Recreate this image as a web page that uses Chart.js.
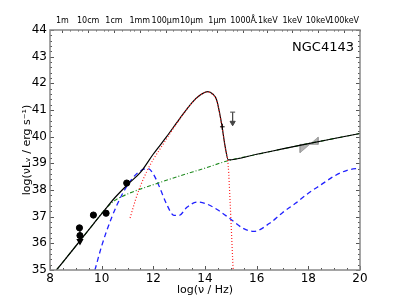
<!DOCTYPE html>
<html>
<head>
<meta charset="utf-8">
<script src="https://cdn.jsdelivr.net/npm/chart.js@4"></script>
<style>
  html, body { margin: 0; padding: 0; background: #fff; }
  #wrap { width: 400px; height: 300px; }
</style>
</head>
<body>
<div id="wrap"><canvas id="sed"></canvas></div>
<script>
// --- Data (log nu, log nuL_nu) ---
const totalX = [8.25, 9.0, 9.7, 10.2, 10.5, 11.0, 11.5, 12.0, 12.5, 13.0, 13.5, 13.8, 14.1, 14.3, 14.45, 14.64, 14.78, 14.9, 16, 17, 18, 19, 20];
const totalY = [35.0, 35.9, 36.75, 37.35, 37.7, 38.2, 38.66, 39.35, 39.98, 40.65, 41.28, 41.55, 41.69, 41.6, 41.38, 40.5, 39.63, 39.13, 39.34, 39.54, 39.74, 39.93, 40.12];

const diskX = [11.1, 11.3, 11.5, 11.75, 12.0, 12.3, 12.6, 13.0, 13.5, 13.8, 14.1, 14.3, 14.45, 14.64, 14.78, 14.9, 14.97, 15.03, 15.09];
const diskY = [36.95, 37.6, 38.15, 38.7, 39.15, 39.6, 40.05, 40.63, 41.27, 41.55, 41.68, 41.58, 41.36, 40.48, 39.6, 38.9, 37.6, 36.3, 35.0];

const jetX = [8.25, 9.0, 9.7, 10.2, 10.5, 11.0, 12.0, 13.0, 14.0, 14.9, 16, 17, 18, 19, 20];
const jetY = [35.0, 35.9, 36.75, 37.35, 37.6, 37.85, 38.2, 38.52, 38.82, 39.1, 39.33, 39.54, 39.74, 39.93, 40.12];

const templateX = [9.74, 10.0, 10.4, 10.8, 11.2, 11.55, 11.8, 12.0, 12.2, 12.5, 12.8, 13.0, 13.3, 13.7, 14.0, 14.5, 15.0, 15.5, 15.9, 16.5, 17.0, 17.5, 18.0, 18.5, 19.0, 19.5, 20.0];
const templateY = [35.0, 35.9, 37.0, 37.85, 38.45, 38.75, 38.8, 38.6, 38.2, 37.5, 37.05, 37.05, 37.35, 37.55, 37.5, 37.25, 36.9, 36.55, 36.45, 36.75, 37.15, 37.5, 37.88, 38.2, 38.52, 38.74, 38.82];

const obsX = [9.14, 9.16, 9.68, 10.17, 10.97];
const obsY = [36.58, 36.29, 37.06, 37.13, 38.26];

// radio upper limit (line + arrow)
const radioLimX = [9.16, 9.16];
const radioLimY = [36.58, 36.08];

// optical point with horizontal error bar
const optX = [14.58, 14.67, 14.76];
const optY = [40.37, 40.37, 40.37];

// UV upper limit
const uvLimX = [15.07, 15.07];
const uvLimY = [40.92, 40.52];

// X-ray bowtie corners
const bowX = [17.68, 17.68, 18.38, 18.38, 17.68];
const bowY = [39.71, 39.40, 39.98, 39.71, 39.71];

// axis ticks
const xTicks = [8, 10, 12, 14, 16, 18, 20];
const yTicks = [35, 36, 37, 38, 39, 40, 41, 42, 43, 44];
const topTickValues = [8.477, 9.477, 10.477, 11.477, 12.477, 13.477, 14.477, 15.477, 16.383, 17.383, 18.383, 19.383];
const topTickLabels = ['1m', '10cm', '1cm', '1mm', '100\u03bcm', '10\u03bcm', '1\u03bcm', '1000\u00c5', '.1keV', '1keV', '10keV', '100keV'];

const FONT = "'DejaVu Sans', sans-serif";
const pts = (xs, ys) => xs.map((x, i) => ({ x: x, y: ys[i] }));

// inward ticks + frame + object name, like the matplotlib original
const framePlugin = {
    id: 'frame',
    afterDraw(chart) {
        const { ctx, chartArea: a, scales } = chart;
        const sx = scales.x, sy = scales.y;
        ctx.save();
        ctx.strokeStyle = '#555';
        ctx.lineWidth = 1;
        const tickX = (v, len) => {
            const p = Math.round(sx.getPixelForValue(v)) + 0.5;
            ctx.beginPath();
            ctx.moveTo(p, a.bottom); ctx.lineTo(p, a.bottom - len);
            ctx.stroke();
        };
        const tickTop = (v, len) => {
            const p = Math.round(sx.getPixelForValue(v)) + 0.5;
            ctx.beginPath();
            ctx.moveTo(p, a.top); ctx.lineTo(p, a.top + len);
            ctx.stroke();
        };
        const tickY = (v, len) => {
            const p = Math.round(sy.getPixelForValue(v)) + 0.5;
            ctx.beginPath();
            ctx.moveTo(a.left, p); ctx.lineTo(a.left + len, p);
            ctx.moveTo(a.right, p); ctx.lineTo(a.right - len, p);
            ctx.stroke();
        };
        for (let v = 8; v <= 20.001; v += 0.5) tickX(v, Math.abs(v % 2) < 0.01 ? 4 : 2);
        for (let i = 0; i <= 45; i++) {
            const v = 35 + i * 0.2;
            tickY(v, Math.abs(v - Math.round(v)) < 0.01 ? 4 : 2);
        }
        topTickValues.forEach(v => {
            tickTop(v, 3);
            [0.301, 0.602, 0.778].forEach(d => { if (v + d < 20) tickTop(v + d, 1.5); });
        });

        ctx.strokeStyle = '#888';
        ctx.lineWidth = 1.5;
        ctx.strokeRect(a.left, a.top, a.right - a.left, a.bottom - a.top);

        ctx.fillStyle = '#000';
        ctx.font = '13px ' + FONT;
        ctx.textAlign = 'right';
        ctx.textBaseline = 'middle';
        ctx.fillText('NGC4143', a.right - 6, a.top + 18);
        ctx.restore();
    }
};

new Chart(document.getElementById('sed'), {
    type: 'scatter',
    data: {
        datasets: [
            { label: 'bowtie', data: pts(bowX, bowY), showLine: true, fill: 'shape', backgroundColor: 'rgba(165,165,165,0.85)', borderColor: '#999', borderWidth: 0.8, pointRadius: 0, order: 9 },
            { label: 'template', data: pts(templateX, templateY), showLine: true, borderColor: '#2020ff', borderWidth: 1.3, borderDash: [5, 3.5], pointRadius: 0, cubicInterpolationMode: 'monotone', order: 8 },
            { label: 'jet', data: pts(jetX, jetY), showLine: true, borderColor: '#1e8a1e', borderWidth: 1.1, borderDash: [4, 2, 1, 2], pointRadius: 0, cubicInterpolationMode: 'monotone', order: 7 },
            { label: 'total', data: pts(totalX, totalY), showLine: true, borderColor: '#000', borderWidth: 1.2, pointRadius: 0, cubicInterpolationMode: 'monotone', order: 6 },
            { label: 'disk', data: pts(diskX, diskY), showLine: true, borderColor: '#ff2020', borderWidth: 1.2, borderDash: [1, 2], pointRadius: 0, cubicInterpolationMode: 'monotone', order: 5 },
            { label: 'radio limit', data: pts(radioLimX, radioLimY), showLine: true, borderColor: '#000', borderWidth: 1.2, pointRadius: [0, 3], pointStyle: 'triangle', rotation: 180, pointBackgroundColor: '#000', pointBorderColor: '#000', order: 4 },
            { label: 'obs', data: pts(obsX, obsY), pointRadius: 3.1, pointBackgroundColor: '#000', pointBorderColor: '#000', order: 3 },
            { label: 'opt', data: pts(optX, optY), showLine: true, borderColor: '#000', borderWidth: 1, pointStyle: 'line', rotation: 90, pointRadius: [0, 3, 0], pointBorderColor: '#000', pointBorderWidth: 1, order: 2 },
            { label: 'uv limit', data: pts(uvLimX, uvLimY), showLine: true, borderColor: '#444', borderWidth: 1.2, pointStyle: ['line', 'triangle'], rotation: [0, 180], pointRadius: [2.5, 3], pointBackgroundColor: '#444', pointBorderColor: '#444', pointBorderWidth: 1, order: 1 }
        ]
    },
    options: {
        responsive: true,
        maintainAspectRatio: false,
        animation: false,
        layout: { padding: { left: 0, right: 40, top: 0, bottom: 0 } },
        plugins: { legend: { display: false }, tooltip: { enabled: false } },
        scales: {
            x: {
                type: 'linear', position: 'bottom', min: 8, max: 20,
                afterBuildTicks: axis => { axis.ticks = xTicks.map(v => ({ value: v })); },
                afterFit: axis => { axis.height = 30; },
                grid: { display: false, drawTicks: false },
                border: { display: false },
                ticks: { color: '#000', font: { family: FONT, size: 12 }, padding: 2, maxRotation: 0 },
                title: { display: true, text: 'log(\u03bd / Hz)', color: '#000', font: { family: FONT, size: 11 }, padding: { top: 0, bottom: 3 } }
            },
            xTop: {
                type: 'linear', position: 'top', min: 8, max: 20,
                afterBuildTicks: axis => { axis.ticks = topTickValues.map(v => ({ value: v })); },
                afterFit: axis => { axis.height = 30; },
                grid: { display: false, drawTicks: false },
                border: { display: false },
                ticks: { color: '#000', font: { family: FONT, size: 8 }, padding: 4, maxRotation: 0, autoSkip: false, callback: (v, i) => topTickLabels[i] }
            },
            y: {
                type: 'linear', min: 35, max: 44,
                afterBuildTicks: axis => { axis.ticks = yTicks.map(v => ({ value: v })); },
                afterFit: axis => { axis.width = 50; },
                grid: { display: false, drawTicks: false },
                border: { display: false },
                ticks: { color: '#000', font: { family: FONT, size: 12 }, padding: 3 },
                title: { display: true, text: 'log(\u03bdL\u1d65 / erg s\u207b\u00b9)', color: '#000', font: { family: FONT, size: 11 }, padding: { top: 21, bottom: 0 } }
            }
        }
    },
    plugins: [framePlugin]
});
</script>
</body>
</html>
